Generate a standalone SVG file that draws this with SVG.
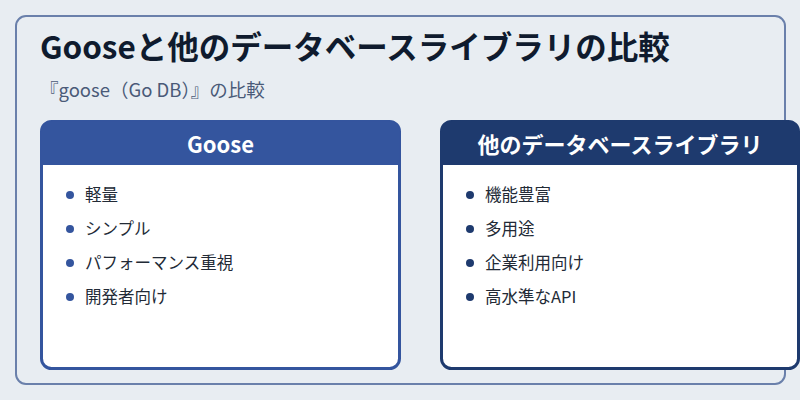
<svg xmlns="http://www.w3.org/2000/svg" width="800" height="400" viewBox="0 0 800 400">
<style>
text{font-family:"Noto Sans CJK JP","Noto Sans",sans-serif}
.item{font-size:16.5px;fill:#222a36}
.hd{font-size:22px;font-weight:bold;fill:#fff}
</style>
<rect width="800" height="400" fill="#e8edf2"/>
<rect x="16" y="16" width="769" height="368" rx="10" fill="#e8edf2" stroke="#6a80ab" stroke-width="2"/>
<text x="40" y="59" font-size="31.5" font-weight="bold" fill="#0f1b2e">Gooseと他のデータベースライブラリの比較</text>
<text x="40" y="97" font-size="18.5" fill="#4a5a78">『goose（Go DB）』の比較</text>
<g id="goose">
<rect x="41.5" y="121.5" width="358" height="247" rx="10" fill="#fff" stroke="#34559e" stroke-width="3"/>
<path d="M41.5 165 V131.5 a10 10 0 0 1 10 -10 H389.5 a10 10 0 0 1 10 10 V165 Z" fill="#34559e"/>
<text class="hd" x="220.5" y="153" text-anchor="middle">Goose</text>
<g fill="#34559e"><circle cx="70" cy="195" r="4"/><circle cx="70" cy="229" r="4"/><circle cx="70" cy="263" r="4"/><circle cx="70" cy="297" r="4"/></g>
<text class="item" x="85" y="201">軽量</text>
<text class="item" x="85" y="235">シンプル</text>
<text class="item" x="85" y="269">パフォーマンス重視</text>
<text class="item" x="85" y="303">開発者向け</text>
</g>
<g id="others">
<rect x="441.5" y="121.5" width="357" height="247" rx="10" fill="#fff" stroke="#1e3a6e" stroke-width="3"/>
<path d="M441.5 165 V131.5 a10 10 0 0 1 10 -10 H788.5 a10 10 0 0 1 10 10 V165 Z" fill="#1e3a6e"/>
<text class="hd" x="620" y="153" text-anchor="middle">他のデータベースライブラリ</text>
<g fill="#1e3a6e"><circle cx="470" cy="195" r="4"/><circle cx="470" cy="229" r="4"/><circle cx="470" cy="263" r="4"/><circle cx="470" cy="297" r="4"/></g>
<text class="item" x="485" y="201">機能豊富</text>
<text class="item" x="485" y="235">多用途</text>
<text class="item" x="485" y="269">企業利用向け</text>
<text class="item" x="485" y="303">高水準なAPI</text>
</g>
<g id="connectors"/>
</svg>
